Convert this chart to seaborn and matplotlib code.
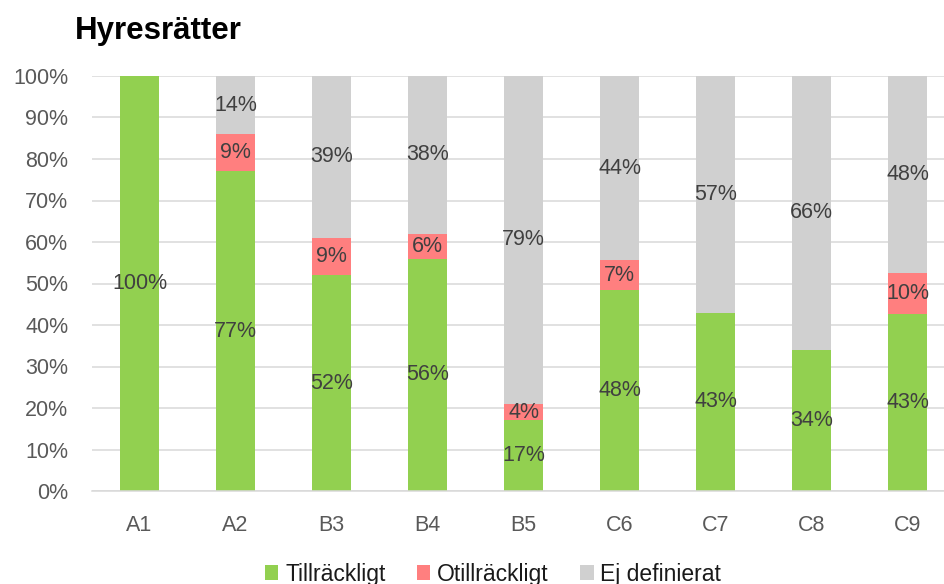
import numpy as np
import pandas as pd
import matplotlib
matplotlib.use("Agg")
import matplotlib.pyplot as plt
import seaborn as sns
from matplotlib.patches import Patch

categories = ["A1", "A2", "B3", "B4", "B5", "C6", "C7", "C8", "C9"]
tillrackligt = [100, 77, 52, 56, 17, 48, 43, 34, 43]
otillrackligt = [0, 9, 9, 6, 4, 7, 0, 0, 10]
ej_definierat = [0, 14, 39, 38, 79, 44, 57, 66, 48]

series_names = ["Tillräckligt", "Otillräckligt", "Ej definierat"]
series_values = [tillrackligt, otillrackligt, ej_definierat]
colors = ["#92D050", "#FF7F7F", "#D0D0D0"]

sns.set_theme(style="white")
plt.rcParams["font.family"] = ["Liberation Sans", "DejaVu Sans"]

raw = np.array(series_values, dtype=float)
shares = raw / raw.sum(axis=0) * 100  # 100 % stacked

fig = plt.figure(figsize=(9.44, 5.84), dpi=100)
ax = fig.add_axes([92 / 944, 1 - 491 / 584, (944 - 92) / 944, (491 - 76) / 584])

bottom = np.zeros(len(categories))
for name, share, rv, col in zip(series_names, shares, raw, colors):
    df = pd.DataFrame({"kategori": categories, "andel": share})
    n_before = len(ax.containers)
    sns.barplot(data=df, x="kategori", y="andel", color=col, width=0.4,
                bottom=bottom, ax=ax, saturation=1, zorder=2, linewidth=0)
    cont = ax.containers[n_before]
    labels = [f"{int(v)}%" if v > 0 else "" for v in rv]
    ax.bar_label(cont, labels=labels, label_type="center",
                 fontsize=15.5, color="#404040")
    bottom = bottom + share

ax.set_xlim(-0.495, 8.38)
ax.set_ylim(0, 100)
ax.set_yticks(np.arange(0, 101, 10))
ax.set_yticklabels([f"{t}%" for t in range(0, 101, 10)])
ax.set_xlabel("")
ax.set_ylabel("")
ax.grid(axis="y", color="#D9D9D9", linewidth=1.1, zorder=0)
ax.set_axisbelow(True)
for s in ["top", "right", "left"]:
    ax.spines[s].set_visible(False)
ax.spines["bottom"].set_color("#D9D9D9")
ax.spines["bottom"].set_linewidth(1.1)
ax.tick_params(axis="both", length=0, labelsize=15.5, labelcolor="#595959")
ax.tick_params(axis="x", pad=17)
ax.tick_params(axis="y", pad=17)

fig.text(75 / 944, 1 - 39 / 584, "Hyresrätter", fontsize=22.5,
         fontweight="bold", color="black", ha="left", va="baseline")

handles = [Patch(facecolor=c, edgecolor="none", label=n)
           for n, c in zip(series_names, colors)]
fig.legend(handles=handles, loc="center", bbox_to_anchor=(493 / 944, 1 - 574 / 584),
           ncol=3, frameon=False, fontsize=16.5, handlelength=0.6,
           handleheight=0.6, handletextpad=0.3, columnspacing=1.35,
           labelcolor="#1A1A1A", borderaxespad=0, borderpad=0)

fig.savefig("out.png", dpi=100)
